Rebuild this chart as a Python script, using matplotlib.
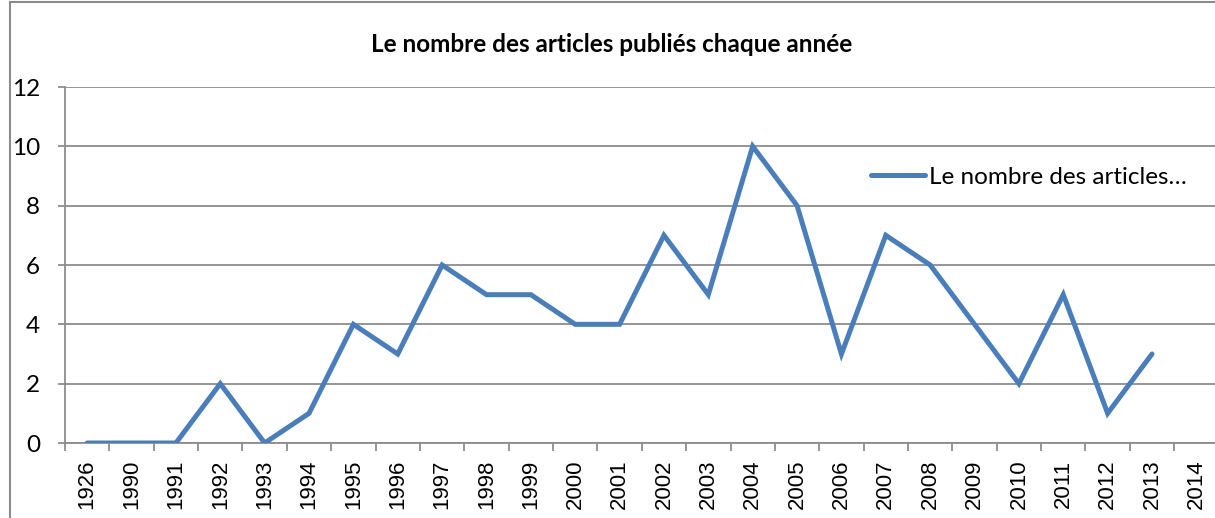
import matplotlib.pyplot as plt
from matplotlib.lines import Line2D

years = ["1926", "1990", "1991", "1992", "1993", "1994", "1995", "1996", "1997",
         "1998", "1999", "2000", "2001", "2002", "2003", "2004", "2005", "2006",
         "2007", "2008", "2009", "2010", "2011", "2012", "2013", "2014"]
articles = [0, 0, 0, 2, 0, 1, 4, 3, 6, 5, 5, 4, 4, 7, 5, 10, 8, 3, 7, 6, 4, 2, 5, 1, 3]

title = "Le nombre des articles publiés chaque année"
legend_label = "Le nombre des articles…"

W, H = 1215, 518
fig = plt.figure(figsize=(W / 100, H / 100), dpi=100)
ax = fig.add_axes([65 / W, 75 / H, 1 - 65 / W, (443 - 87) / H])

grey = "#8c8c8c"
x = list(range(len(articles)))
ax.plot(x, articles, color="#4a7ebb", linewidth=3.6, solid_capstyle="round",
        solid_joinstyle="miter", label=legend_label, zorder=3)

ax.set_xlim(-0.5, 25.42)
ax.set_ylim(0, 12)
ax.set_yticks(range(0, 13, 2))
ax.set_yticklabels([str(v) for v in range(0, 13, 2)], family="Lato", fontsize=17.5)
ax.grid(axis="y", color=grey, linewidth=1.3)
ax.set_axisbelow(True)

# boundaries as major ticks, labels centred on minor ticks
ax.set_xticks([i - 0.5 for i in range(len(years))])
ax.set_xticklabels([])
ax.set_xticks(range(len(years)), minor=True)
ax.set_xticklabels(years, minor=True, rotation=90, family="Liberation Sans", fontsize=16)
ax.tick_params(axis="x", which="major", length=6, color=grey, width=1.3)
ax.tick_params(axis="x", which="minor", length=0, pad=12)
ax.tick_params(axis="y", length=5, color=grey, width=1.3, pad=13)

for s in ["top", "right"]:
    ax.spines[s].set_visible(False)
for s in ["left", "bottom"]:
    ax.spines[s].set_color(grey)
    ax.spines[s].set_linewidth(1.3)

ax.legend(loc="upper left", bbox_to_anchor=(796 / 1150, 1 - 70 / 356), frameon=False,
          prop={"family": "Lato", "size": 17.5}, handlelength=2.25, handletextpad=0.15,
          borderaxespad=0)

fig.text(612 / W, 1 - 45 / H, title, ha="center", va="center",
         family="Lato", weight="bold", fontsize=17.5)

# chart border
fig.add_artist(Line2D([9.5 / W, 9.5 / W], [0, 1 - 2 / H], color=grey, linewidth=1.5))
fig.add_artist(Line2D([9.5 / W, 1], [1 - 2 / H, 1 - 2 / H], color=grey, linewidth=1.5))

fig.savefig("out.png", dpi=100)
